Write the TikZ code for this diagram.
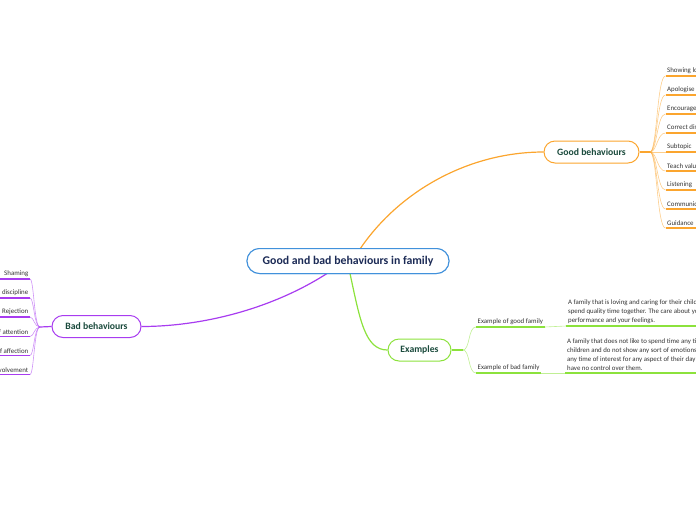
\documentclass[tikz,border=0pt]{standalone}
\usepackage{fontspec}
\setmainfont{Carlito}
\definecolor{orangeC}{HTML}{FBA52E}
\definecolor{purpleC}{HTML}{A83CF0}
\definecolor{greenC}{HTML}{8CE23C}
\definecolor{blueC}{HTML}{4191DB}
\definecolor{navyC}{HTML}{1B2A55}
\definecolor{tealC}{HTML}{1A4A3C}
\definecolor{leafC}{HTML}{333333}
\tikzset{
  mainbox/.style={draw=blueC, line width=1pt, rounded corners=12.5pt, minimum width=202pt, minimum height=25pt, fill=white, text=navyC, font=\fontsize{11.8}{13}\selectfont\bfseries},
  branchbox/.style={line width=1pt, rounded corners=11pt, minimum height=22pt, fill=white, text=tealC, font=\fontsize{9.7}{11}\selectfont\bfseries},
  leaftext/.style={inner xsep=1.5pt, inner ysep=2pt, text=leafC, font=\fontsize{6.9}{8}\selectfont},
  paratext/.style={inner xsep=2pt, inner ysep=2pt, text=leafC, align=left, font=\fontsize{6.85}{9}\selectfont},
  mainline/.style={line width=1.2pt},
  fanline/.style={line width=0.6pt, opacity=0.55},
  underline/.style={line width=1.6pt},
}
\begin{document}
\begin{tikzpicture}[x=1pt,y=-1pt]
\useasboundingbox (0,0) rectangle (696,520);
\clip (0,0) rectangle (696,520);
\coordinate (rightedge) at (720,0);
\coordinate (leftedge) at (-30,0);

% central node
\node[mainbox] (main) at (348,261) {Good and bad behaviours in family};

% branch nodes
\node[branchbox, draw=orangeC, minimum width=95pt] (good) at (591.5,152) {Good behaviours};
\node[branchbox, draw=purpleC, minimum width=89pt] (bad) at (96.5,326.5) {Bad behaviours};
\node[branchbox, draw=greenC, minimum width=63pt] (ex) at (419.5,350) {Examples};

% main connectors
\coordinate (mo) at (360,249);
\coordinate (mp) at (327,273.5);
\coordinate (mg) at (350,273.5);
\draw[mainline, orangeC] (mo) .. controls (400,190) and (470,152) .. (good.west);
\draw[mainline, purpleC] (mp) .. controls (270,310) and (200,326.5) .. (bad.east);
\draw[mainline, greenC] (mg) .. controls (360,320) and (365,350) .. (ex.west);
\node[mainbox] at (main) {Good and bad behaviours in family};

% Good behaviours leaves
\coordinate (gb) at (650,152);
\draw[mainline, orangeC] (good.east) -- (gb);
\foreach \i/\y/\t in {1/76/Showing love, 2/95/Apologise, 3/114/Encouragement, 4/133/Correct discipline, 5/152/Subtopic, 6/171/Teach values, 7/190/Listening, 8/209/Communication, 9/228/Guidance}{
  \node[leaftext, anchor=south west] (g\i) at (665.5,\y) {\t};
  \draw[underline, orangeC] (g\i.south west) -- (g\i.south west -| rightedge);
  \draw[fanline, orangeC] (gb) .. controls (657,152) and (657,\y) .. (g\i.south west);
}

% Bad behaviours leaves
\coordinate (bb) at (40,327);
\draw[mainline, purpleC] (bad.west) -- (bb);
\foreach \i/\y/\t in {1/279/Shaming, 2/298/Harsh discipline, 3/317/Rejection, 4/336.5/Lack of attention, 5/355.5/Lack of affection, 6/374.5/Lack of involvement}{
  \node[leaftext, anchor=south east] (b\i) at (30,\y) {\t};
  \draw[underline, purpleC] (b\i.south east) -- (b\i.south east -| leftedge);
  \draw[fanline, purpleC] (bb) .. controls (34,327) and (34,\y) .. (b\i.south east);
}

% Examples leaves
\coordinate (eb) at (463,350);
\draw[mainline, greenC] (ex.east) -- (eb);
\node[leaftext, anchor=south west] (e1) at (476,327) {Example of good family};
\node[leaftext, anchor=south west] (e2) at (476,373) {Example of bad family};
\draw[fanline, greenC] (eb) .. controls (470,350) and (468,327) .. (e1.south west);
\draw[fanline, greenC] (eb) .. controls (470,350) and (468,373) .. (e2.south west);
\draw[underline, greenC] (e1.south west) -- (e1.south east);
\draw[underline, greenC] (e2.south west) -- (e2.south east);

\node[paratext, anchor=south west] (p1) at (566,326) {A family that is loving and caring for their children and\\spend quality time together. The care about your\\performance and your feelings.};
\node[paratext, anchor=south west] (p2) at (565,373) {A family that does not like to spend time any time with their\\children and do not show any sort of emotions. They do not show\\any time of interest for any aspect of their day to day life and\\have no control over them.};
\draw[fanline, greenC] (e1.south east) -- (p1.south west);
\draw[fanline, greenC] (e2.south east) -- (p2.south west);
\draw[underline, greenC] (p1.south west) -- (p1.south west -| rightedge);
\draw[underline, greenC] (p2.south west) -- (p2.south west -| rightedge);
\end{tikzpicture}
\end{document}
